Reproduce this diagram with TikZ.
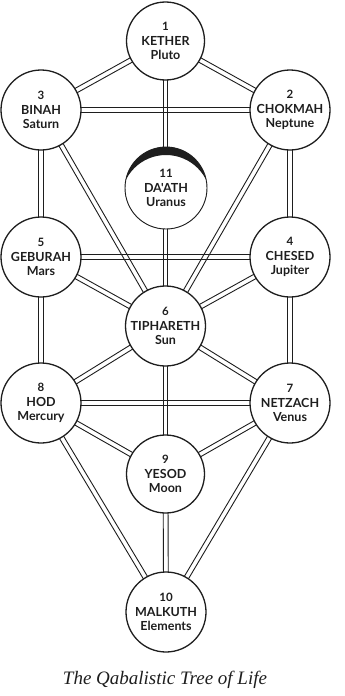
\documentclass[tikz,border=0pt]{standalone}
\usepackage{fontspec}
\setmainfont{Liberation Serif}
\newfontfamily\sefont{Lato}
\usetikzlibrary{calc,backgrounds}
\definecolor{ink}{HTML}{1E1E1E}
\tikzset{
  sefirah/.style={circle, draw=ink, line width=1.3pt, fill=white, minimum size=80pt,
    inner sep=0pt, align=center, font=\sefont\bfseries\fontsize{12.5}{14.5}\selectfont, text=ink},
  railline/.style={draw=ink, line width=0.9pt},
}
\newcommand\sefl[3]{{\fontsize{11.5}{14.5}\selectfont #1}\\{#2}\\{\fontsize{12.5}{14.5}\selectfont #3}}
\newcommand\rail[2]{%
  \draw[railline] ($(#1.center)!2.4pt!90:(#2.center)$) -- ($(#2.center)!2.4pt!-90:(#1.center)$)
                  ($(#1.center)!2.4pt!-90:(#2.center)$) -- ($(#2.center)!2.4pt!90:(#1.center)$);}
\begin{document}
\begin{tikzpicture}[x=1pt,y=-1pt]
\useasboundingbox (0,0) rectangle (345,696);
\node[sefirah, minimum size=78pt] (K) at (165.5,41) {\sefl{1}{KETHER}{Pluto}};
\node[sefirah] (B) at (41,110) {\sefl{3}{BINAH}{Saturn}};
\node[sefirah] (C) at (290,110) {\sefl{2}{CHOKMAH}{Neptune}};
\node[sefirah, line width=0.9pt, minimum size=82pt] (D) at (166,188) {\sefl{11}{DA'ATH}{Uranus}};
\node[sefirah] (G) at (41,257) {\sefl{5}{GEBURAH}{Mars}};
\node[sefirah] (H4) at (290,257) {\sefl{4}{CHESED}{Jupiter}};
\node[sefirah] (T) at (165.5,326) {\sefl{6}{TIPHARETH}{Sun}};
\node[sefirah] (Ho) at (41,403) {\sefl{8}{HOD}{Mercury}};
\node[sefirah] (N) at (290,403) {\sefl{7}{NETZACH}{Venus}};
\node[sefirah, minimum size=78pt] (Y) at (165.5,474) {\sefl{9}{YESOD}{Moon}};
\node[sefirah] (M) at (166,612) {\sefl{10}{MALKUTH}{Elements}};
% crescent on Da'ath
\begin{scope}
  \clip (D.center) circle (41pt);
  \fill[ink, even odd rule] (D.center) circle (41pt) ($(D.center)+(0,11.84)$) circle (44.84pt);
\end{scope}
\begin{scope}[on background layer]
  \fill[white] (0,0) rectangle (345,696);
  \rail{K}{B} \rail{K}{C} \rail{K}{T} \rail{B}{C}
  \rail{B}{G} \rail{C}{H4} \rail{B}{T} \rail{C}{T}
  \rail{G}{H4} \rail{G}{T} \rail{H4}{T}
  \rail{G}{Ho} \rail{H4}{N} \rail{T}{Ho} \rail{T}{N} \rail{T}{Y}
  \rail{Ho}{N} \rail{Ho}{Y} \rail{N}{Y}
  \rail{Ho}{M} \rail{N}{M} \rail{Y}{M}
\end{scope}
\node[anchor=base, font=\itshape\fontsize{19}{22}\selectfont, text=ink] (cap) at (165,684) {The Qabalistic Tree of Life};
\end{tikzpicture}
\end{document}
